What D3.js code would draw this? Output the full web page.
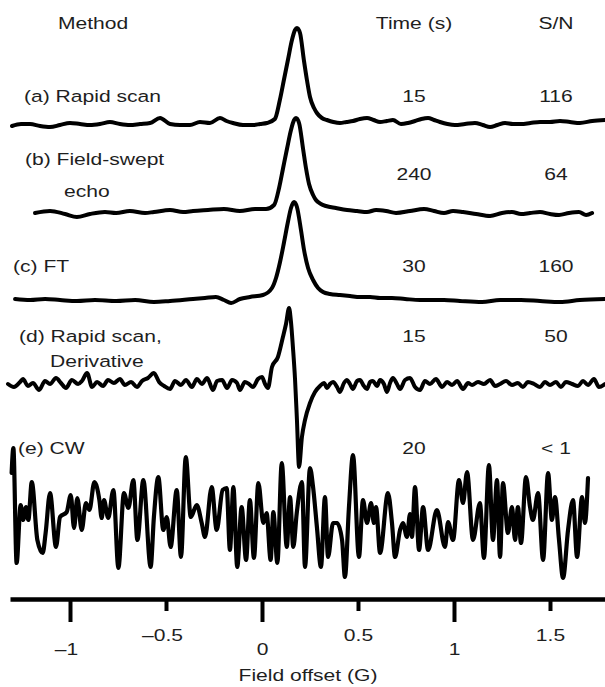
<!DOCTYPE html>
<html>
<head>
<meta charset="utf-8">
<script src="https://cdn.jsdelivr.net/npm/d3@7"></script>
<style>
  body { margin: 0; background: #fff; }
  text { font-family: "Liberation Sans", Arial, Helvetica, sans-serif; font-size: 17px; fill: #1e1e1e; }
</style>
</head>
<body>
<div id="grafico"></div>
<script>
// datos (campo en G, senal en u.a.)
const HEADERS = ["Method", "Time (s)", "S/N"];
const METHODS = [["(a) Rapid scan"], ["(b) Field-swept", "echo"], ["(c) FT"], ["(d) Rapid scan,", "Derivative"], ["(e) CW"]];
const TIMES = ["15", "240", "30", "15", "20"];
const SN = ["116", "64", "160", "50", "< 1"];
const FIELD_TICKS = [-1, -0.5, 0, 0.5, 1, 1.5];

const TRACE_A = [[-1.302, -1], [-1.255, 1], [-1.208, 1], [-1.156, -1], [-1.104, -2], [-1.052, 0], [-1.0, 2], [-0.948, 1], [-0.896, 0], [-0.844, 1], [-0.792, 3], [-0.740, 1], [-0.688, 0], [-0.635, 1], [-0.583, 2], [-0.531, 7], [-0.479, 1], [-0.427, 0], [-0.375, 0], [-0.323, 3], [-0.271, 2], [-0.219, 7], [-0.185, 4], [-0.151, 2], [-0.099, 0], [-0.047, 0], [-0.010, 1], [0.026, 2], [0.067, 6], [0.093, 25], [0.114, 45], [0.135, 65], [0.156, 85], [0.172, 95], [0.182, 97], [0.198, 92], [0.218, 65], [0.234, 45], [0.25, 28], [0.271, 17], [0.286, 12], [0.312, 7], [0.338, 5], [0.372, 3], [0.406, 2], [0.44, 3], [0.474, 4], [0.51, 6], [0.547, 7], [0.581, 5], [0.615, 3], [0.65, 4], [0.682, 5], [0.724, 1], [0.76, 2], [0.797, 4], [0.83, 6], [0.865, 7], [0.896, 5], [0.927, 3], [0.966, 1], [1.005, 0], [1.057, 1], [1.109, 2], [1.15, 0], [1.188, -2], [1.226, 0], [1.266, 2], [1.307, 1], [1.349, 1], [1.398, 2], [1.448, 3], [1.5, 3], [1.552, 4], [1.604, 3], [1.656, 2], [1.72, 4], [1.786, 5]];

const TRACE_B = [[-1.182, 0], [-1.104, 2], [-1.026, -1], [-0.964, -4], [-0.896, -1], [-0.818, 1], [-0.760, 0], [-0.688, 2], [-0.609, 0], [-0.563, 1], [-0.479, 3], [-0.411, 1], [-0.359, 2], [-0.281, 3], [-0.198, 4], [-0.115, 2], [-0.036, 4], [0.021, 4], [0.063, 8], [0.089, 25], [0.109, 44], [0.130, 64], [0.151, 83], [0.167, 93], [0.177, 95], [0.193, 90], [0.214, 64], [0.229, 45], [0.245, 29], [0.266, 18], [0.281, 13], [0.307, 9], [0.333, 7], [0.385, 5], [0.443, 3], [0.495, 2], [0.547, 1], [0.594, 3], [0.646, 2], [0.698, 0], [0.771, 2], [0.844, 4], [0.896, 2], [0.948, 0], [0.995, 2], [1.047, 1], [1.115, -1], [1.188, -3], [1.25, 0], [1.302, 1], [1.349, -1], [1.396, 0], [1.448, 1], [1.5, -1], [1.547, -2], [1.599, 0], [1.651, 1], [1.688, -2], [1.719, 0]];

const TRACE_C = [[-1.286, 1], [-1.208, 0], [-1.130, 1], [-1.052, 0], [-0.964, -1], [-0.870, 0], [-0.760, -1], [-0.661, 0], [-0.563, -2], [-0.479, -1], [-0.359, 1], [-0.297, 2], [-0.240, 3], [-0.198, 0], [-0.161, -3], [-0.115, 1], [-0.063, 3], [0.005, 5], [0.052, 12], [0.073, 22], [0.094, 38], [0.115, 58], [0.135, 78], [0.151, 92], [0.167, 98], [0.182, 93], [0.203, 70], [0.219, 50], [0.240, 32], [0.266, 20], [0.292, 12], [0.318, 8], [0.354, 6], [0.406, 5], [0.458, 4], [0.510, 3], [0.563, 3], [0.615, 2], [0.677, 2], [0.745, 1], [0.823, 0], [0.948, 0], [1.031, -1], [1.146, -2], [1.24, 0], [1.349, 0], [1.448, -1], [1.552, -2], [1.656, 0], [1.786, 1]];

const TRACE_D = [[-1.323, 0], [-1.292, -3], [-1.260, 2], [-1.245, 5], [-1.219, -2], [-1.193, 1], [-1.161, -6], [-1.130, 3], [-1.104, 0], [-1.073, 6], [-1.047, 1], [-1.021, -4], [-0.990, 4], [-0.958, 0], [-0.938, 3], [-0.911, 11], [-0.885, -3], [-0.859, 2], [-0.828, -2], [-0.802, 4], [-0.771, 1], [-0.740, 5], [-0.714, -1], [-0.682, 2], [-0.651, -3], [-0.625, 3], [-0.594, 6], [-0.563, 11], [-0.536, 2], [-0.510, -2], [-0.479, -5], [-0.453, 3], [-0.422, -1], [-0.396, 4], [-0.365, -3], [-0.339, 5], [-0.313, 0], [-0.286, 6], [-0.255, -6], [-0.234, 3], [-0.208, 4], [-0.182, -4], [-0.156, 4], [-0.130, 1], [-0.115, -6], [-0.089, 2], [-0.068, 0], [-0.047, -3], [-0.021, 5], [0, 7], [0.016, 0], [0.031, -4], [0.052, 17], [0.083, 27], [0.109, 47], [0.125, 60], [0.141, 76], [0.151, 62], [0.161, 37], [0.172, 5], [0.182, -36], [0.193, -83], [0.208, -53], [0.224, -36], [0.25, -19], [0.276, -8], [0.302, -2], [0.323, 1], [0.339, -4], [0.354, 0], [0.370, 2], [0.391, -3], [0.406, -8], [0.427, 1], [0.443, 4], [0.458, 0], [0.474, -5], [0.495, 3], [0.510, 4], [0.531, -2], [0.547, -5], [0.563, 2], [0.578, 3], [0.599, -2], [0.615, 4], [0.635, 0], [0.651, -8], [0.667, 1], [0.682, 6], [0.703, 0], [0.719, -5], [0.745, 4], [0.771, 6], [0.797, -3], [0.823, -6], [0.849, 3], [0.875, 0], [0.906, 5], [0.938, -3], [0.964, 2], [0.990, -1], [1.016, 3], [1.047, -5], [1.073, 1], [1.094, -1], [1.125, 2], [1.156, 0], [1.188, 4], [1.214, -2], [1.240, 0], [1.271, 3], [1.302, -1], [1.333, 1], [1.359, -3], [1.385, 2], [1.417, 0], [1.448, -3], [1.474, 2], [1.5, -1], [1.531, 2], [1.557, -3], [1.583, 2], [1.615, 0], [1.646, -2], [1.672, 3], [1.698, -1], [1.729, 5], [1.755, -3], [1.786, 0]];

const TRACE_E = [[-1.304, 44], [-1.295, 69], [-1.278, -46], [-1.257, 12], [-1.244, -3], [-1.229, 10], [-1.217, -3], [-1.199, 35], [-1.170, -23], [-1.142, -36], [-1.127, -16], [-1.104, 24], [-1.073, -30], [-1.052, 0], [-1.017, 5], [-0.996, 22], [-0.979, -11], [-0.962, 19], [-0.939, -13], [-0.917, 14], [-0.899, 7], [-0.873, 35], [-0.847, 17], [-0.835, -1], [-0.823, 17], [-0.801, -1], [-0.774, 27], [-0.748, -51], [-0.719, 24], [-0.696, 9], [-0.670, 37], [-0.649, -23], [-0.618, 37], [-0.580, -50], [-0.563, 0], [-0.540, 40], [-0.514, -13], [-0.496, 0], [-0.476, -30], [-0.444, 27], [-0.422, -40], [-0.397, 60], [-0.371, 0], [-0.340, 12], [-0.314, -6], [-0.297, -20], [-0.262, 30], [-0.236, -13], [-0.205, 27], [-0.184, 29], [-0.167, -33], [-0.149, 30], [-0.129, -50], [-0.106, 10], [-0.083, -43], [-0.063, 17], [-0.042, -41], [-0.019, 34], [0.007, -6], [0.024, 4], [0.045, -43], [0.059, 5], [0.080, -46], [0.103, 54], [0.129, -30], [0.146, 20], [0.163, -30], [0.181, 4], [0.208, 35], [0.224, -50], [0.250, 49], [0.266, 30], [0.286, -10], [0.307, -50], [0.328, 20], [0.344, -40], [0.370, -6], [0.391, -6], [0.417, -23], [0.432, -60], [0.453, 10], [0.474, 62], [0.505, -40], [0.526, 17], [0.547, -6], [0.568, 14], [0.583, -6], [0.594, 10], [0.615, -36], [0.656, 24], [0.677, -6], [0.693, -40], [0.719, -13], [0.734, -6], [0.755, -20], [0.771, 3], [0.781, -20], [0.797, 30], [0.818, -33], [0.839, 10], [0.865, -33], [0.911, 7], [0.953, -30], [0.969, -5], [0.995, -23], [1.026, 37], [1.047, 14], [1.068, 45], [1.099, -23], [1.135, 14], [1.156, -41], [1.182, 52], [1.203, -23], [1.224, 37], [1.240, -40], [1.255, 34], [1.281, -16], [1.302, 10], [1.318, -23], [1.333, 10], [1.349, -26], [1.375, 40], [1.396, 10], [1.411, -3], [1.438, 24], [1.464, -43], [1.490, 44], [1.510, -3], [1.526, 20], [1.547, -23], [1.568, -61], [1.594, -13], [1.620, 17], [1.641, -40], [1.667, 20], [1.682, -6], [1.698, 39]];

const TRACES = [TRACE_A, TRACE_B, TRACE_C, TRACE_D, TRACE_E];

// layout
const WIDTH = 605;
const HEIGHT = 687;
const AXIS_Y = 599;
const STRETCH = 1.24;   // the lettering in the figure is wide
const BASES = [474, 386, 299, 215, 82];   // baseline of each trace (u.a. above axis)
const LINE_W = [4, 4, 4, 4, 4.2];
const LABEL_POS = [[[24, 102]], [[25, 165], [64, 197]], [[13, 272]], [[19, 342], [50, 367]], [[18, 454]]];
const ROW_Y = [102, 180, 272, 342, 454];
const TIME_X = 414;
const SN_X = 556;

const SVG = d3.select("#grafico").append("svg").attr("width", WIDTH).attr("height", HEIGHT);

const escalaX = d3.scaleLinear().domain([-1.3125, 1.7865]).range([10, 605]);
const escalaY = d3.scaleLinear().domain([0, 100]).range([AXIS_Y, AXIS_Y - 100]);

function texto(str, px, py, anchor) {
    SVG.append("text")
        .attr("transform", "translate(" + px + "," + py + ") scale(" + STRETCH + ",1)")
        .attr("text-anchor", anchor)
        .text(str);
}

// espectros
TRACES.forEach(function(t, i) {
    var linea = d3.line()
        .x(d => escalaX(d[0]))
        .y(d => escalaY(BASES[i] + d[1]))
        .curve(d3.curveMonotoneX);
    SVG.append("path")
        .datum(t)
        .attr("d", linea)
        .attr("fill", "none")
        .attr("stroke", "#000")
        .attr("stroke-width", LINE_W[i])
        .attr("stroke-linejoin", "round")
        .attr("stroke-linecap", "round");
});

// textos
texto(HEADERS[0], 93, 29, "middle");
texto(HEADERS[1], TIME_X, 29, "middle");
texto(HEADERS[2], SN_X, 29, "middle");

METHODS.forEach(function(m, i) {
    m.forEach(function(s, j) {
        texto(s, LABEL_POS[i][j][0], LABEL_POS[i][j][1], "start");
    });
    texto(TIMES[i], TIME_X, ROW_Y[i], "middle");
    texto(SN[i], SN_X, ROW_Y[i], "middle");
});

// eje x
var ejeX = d3.axisBottom(escalaX)
    .tickValues(FIELD_TICKS)
    .tickSize(23)
    .tickSizeOuter(0)
    .tickFormat(d => d < 0 ? "\u2013" + Math.abs(d) : String(d));

var gEje = SVG.append("g")
    .attr("transform", "translate(0," + AXIS_Y + ")")
    .call(ejeX);

gEje.select(".domain").attr("stroke", "#000").attr("stroke-width", 4.5);
gEje.selectAll(".tick line")
    .attr("stroke", "#000")
    .attr("stroke-width", 4)
    .attr("y2", d => Number.isInteger(d) ? 23 : 12);
gEje.selectAll(".tick text")
    .attr("y", null)
    .attr("dy", null)
    .attr("transform", d => "translate(" + (d < 0 ? -4 : 0) + "," + (Number.isInteger(d) ? 56 : 42) + ") scale(" + STRETCH + ",1)");

texto("Field offset (G)", 308, 681, "middle");
</script>
</body>
</html>
